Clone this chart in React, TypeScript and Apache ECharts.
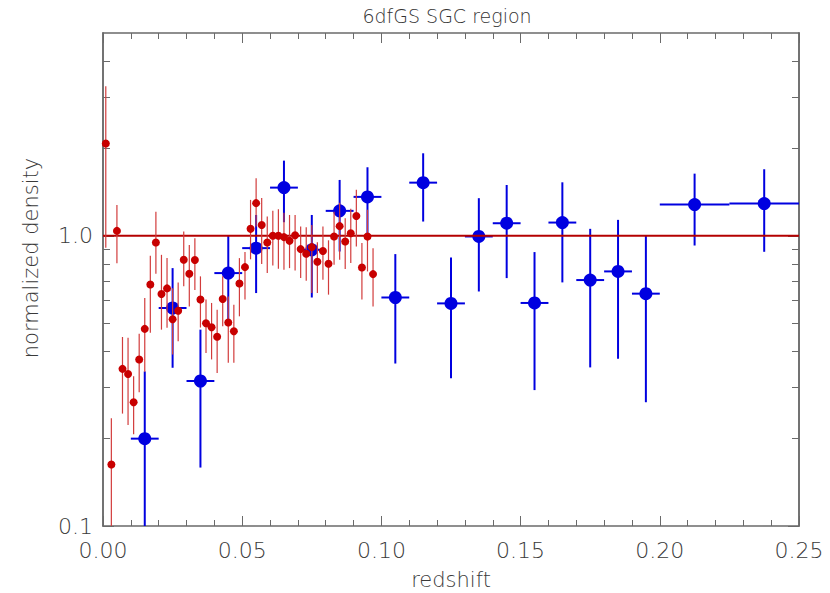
import React, { useEffect, useRef } from "react";
import * as echarts from "echarts";

// ---- data ----
const titleText = "6dfGS SGC region";
const xName = "redshift";
const yName = "normalized density";

const xTickLabels = ["0.00", "0.05", "0.10", "0.15", "0.20", "0.25"];
const yMajorTicks = [0.1, 1];
const yMinorTicks = [0.2, 0.3, 0.4, 0.5, 0.6, 0.7, 0.8, 0.9, 2, 3, 4];
const refLevel = 1.0;

// blue: binned survey points
const blueZ = [0.015, 0.025, 0.035, 0.045, 0.055, 0.065, 0.075, 0.085, 0.095, 0.105, 0.115, 0.125, 0.135, 0.145, 0.155, 0.165, 0.175, 0.185, 0.195, 0.2125, 0.2375];
const blueHalfWidth = [0.005, 0.005, 0.005, 0.005, 0.005, 0.005, 0.005, 0.005, 0.005, 0.005, 0.005, 0.005, 0.005, 0.005, 0.005, 0.005, 0.005, 0.005, 0.005, 0.0125, 0.0125];
const blueVal = [0.20, 0.564, 0.316, 0.744, 0.907, 1.466, 0.895, 1.219, 1.362, 0.613, 1.525, 0.585, 0.995, 1.105, 0.587, 1.111, 0.704, 0.754, 0.632, 1.281, 1.292];
const blueHi = [0.341, 0.774, 0.475, 1.0, 1.18, 1.816, 1.18, 1.558, 1.723, 0.865, 1.925, 0.842, 1.348, 1.497, 0.879, 1.529, 1.057, 1.135, 1.0, 1.638, 1.696];
const blueLo = [0.09, 0.351, 0.159, 0.514, 0.635, 1.114, 0.613, 0.883, 0.98, 0.363, 1.12, 0.323, 0.643, 0.715, 0.294, 0.691, 0.352, 0.377, 0.267, 0.926, 0.881];

// red: fine-binned points
const redZ = [0.001, 0.003, 0.005, 0.007, 0.009, 0.011, 0.013, 0.015, 0.017, 0.019, 0.021, 0.023, 0.025, 0.027, 0.029, 0.031, 0.033, 0.035, 0.037, 0.039, 0.041, 0.043, 0.045, 0.047, 0.049, 0.051, 0.053, 0.055, 0.057, 0.059, 0.061, 0.063, 0.065, 0.067, 0.069, 0.071, 0.073, 0.075, 0.077, 0.079, 0.081, 0.083, 0.085, 0.087, 0.089, 0.091, 0.093, 0.095, 0.097];
const redVal = [2.08, 0.163, 1.04, 0.348, 0.334, 0.267, 0.375, 0.478, 0.68, 0.948, 0.63, 0.659, 0.516, 0.552, 0.827, 0.74, 0.825, 0.603, 0.50, 0.484, 0.449, 0.606, 0.503, 0.469, 0.685, 0.78, 1.057, 1.296, 1.09, 0.948, 1.0, 1.0, 0.99, 0.961, 1.005, 0.9, 0.867, 0.914, 0.814, 0.886, 0.801, 0.995, 1.08, 0.956, 1.02, 1.17, 0.778, 0.995, 0.738];
const redHi = [3.28, 0.235, 1.278, 0.448, 0.445, 0.328, 0.46, 0.61, 0.854, 1.21, 0.86, 0.838, 0.66, 0.69, 1.035, 0.93, 0.98, 0.725, 0.603, 0.587, 0.556, 0.725, 0.618, 0.579, 0.838, 0.88, 1.33, 1.58, 1.35, 1.165, 1.22, 1.235, 1.2, 1.18, 1.18, 1.076, 1.07, 1.09, 0.95, 1.076, 0.965, 1.21, 1.3, 1.15, 1.24, 1.44, 0.944, 1.23, 0.907];
const redLo = [0.91, 0.09, 0.805, 0.244, 0.223, 0.207, 0.289, 0.34, 0.463, 0.74, 0.475, 0.482, 0.39, 0.433, 0.67, 0.571, 0.65, 0.483, 0.395, 0.375, 0.337, 0.488, 0.365, 0.365, 0.528, 0.603, 0.83, 1.076, 0.8, 0.744, 0.79, 0.77, 0.764, 0.774, 0.76, 0.715, 0.70, 0.635, 0.635, 0.706, 0.627, 0.795, 0.827, 0.768, 0.806, 0.918, 0.603, 0.754, 0.571];

const FONT = "'DejaVu Sans', sans-serif";
const TEXT = "#3a3a3a";
const AXIS = "#6a6a6a";
const BLUE = "#0000e0";
const RED = "#c80000";
const RED_ERR = "#d23c3c";

export default function App() {
  const ref = useRef<HTMLDivElement>(null);
  useEffect(() => {
    if (!ref.current) return;
    const chart = echarts.init(ref.current, undefined, { renderer: "svg" });

    const blueBars = blueZ.map((z, i) => [z, blueVal[i], z - blueHalfWidth[i], z + blueHalfWidth[i], blueLo[i], blueHi[i]]);
    const redBars = redZ.map((z, i) => [z, redVal[i], z, z, redLo[i], redHi[i]]);

    const makeBars = (color: string, width: number, horiz: boolean) => (params: any, api: any) => {
      const x = api.value(0), y = api.value(1);
      const lo = api.coord([x, api.value(4)]);
      const hi = api.coord([x, api.value(5)]);
      const children: any[] = [
        { type: "line", shape: { x1: lo[0], y1: lo[1], x2: hi[0], y2: hi[1] }, style: { stroke: color, lineWidth: width } },
      ];
      if (horiz) {
        const l = api.coord([api.value(2), y]);
        const r = api.coord([api.value(3), y]);
        children.push({ type: "line", shape: { x1: l[0], y1: l[1], x2: r[0], y2: r[1] }, style: { stroke: color, lineWidth: width } });
      }
      return { type: "group", children };
    };

    const xBase = {
      type: "value",
      min: 0,
      max: 0.25,
      interval: 0.05,
      axisLine: { show: true, onZero: false, lineStyle: { color: AXIS, width: 1.5 } },
      axisTick: { show: true, inside: true, length: 10, lineStyle: { color: AXIS, width: 1 } },
      minorTick: { show: true, splitNumber: 5, length: 6, lineStyle: { color: AXIS, width: 1 } },
      splitLine: { show: false },
      minorSplitLine: { show: false },
    };
    const yBase = {
      type: "log",
      logBase: 10,
      min: 0.1,
      max: 5,
      axisLine: { show: true, onZero: false, lineStyle: { color: AXIS, width: 1.5 } },
      splitLine: { show: false },
    };

    chart.setOption({
      animation: false,
      backgroundColor: "#ffffff",
      grid: { left: 103, right: 31, top: 33, bottom: 67, containLabel: false },
      xAxis: [
        {
          ...xBase,
          position: "bottom",
          axisLabel: {
            show: true,
            margin: 13,
            fontFamily: FONT,
            fontSize: 22,
            fontWeight: 200,
            color: TEXT,
            formatter: (v: number) => xTickLabels[Math.round(v / 0.05)] ?? "",
          },
        },
        { ...xBase, position: "top", axisLabel: { show: false } },
      ],
      yAxis: [
        {
          ...yBase,
          position: "left",
          axisTick: { show: true, inside: true, length: 11, customValues: yMajorTicks, lineStyle: { color: AXIS } },
          axisLabel: {
            show: true,
            customValues: yMajorTicks,
            margin: 10,
            fontFamily: FONT,
            fontSize: 22,
            fontWeight: 200,
            color: TEXT,
            formatter: (v: number) => (Math.abs(v - 1) < 1e-6 ? "1.0" : "0.1"),
          },
        },
        {
          ...yBase,
          position: "left",
          axisTick: { show: true, inside: true, length: 7, customValues: yMinorTicks, lineStyle: { color: AXIS } },
          axisLabel: { show: false },
        },
        {
          ...yBase,
          position: "right",
          axisTick: { show: true, inside: true, length: 11, customValues: yMajorTicks, lineStyle: { color: AXIS } },
          axisLabel: { show: false },
        },
        {
          ...yBase,
          position: "right",
          axisTick: { show: true, inside: true, length: 7, customValues: yMinorTicks, lineStyle: { color: AXIS } },
          axisLabel: { show: false },
        },
      ],
      graphic: [
        {
          type: "text",
          x: 447,
          y: 16,
          style: { text: titleText, fill: "#333", font: `200 19px ${FONT}`, align: "center", verticalAlign: "middle" },
        },
        {
          type: "text",
          x: 451,
          y: 580,
          style: { text: xName, fill: TEXT, font: `200 21px ${FONT}`, align: "center", verticalAlign: "middle" },
        },
        {
          type: "text",
          x: 31,
          y: 258,
          rotation: Math.PI / 2,
          style: { text: yName, fill: TEXT, font: `200 21px ${FONT}`, align: "center", verticalAlign: "middle" },
        },
      ],
      series: [
        {
          type: "custom",
          name: "blueErr",
          xAxisIndex: 0,
          yAxisIndex: 0,
          clip: true,
          renderItem: makeBars(BLUE, 2, true),
          data: blueBars,
          z: 2,
          silent: true,
        },
        {
          type: "scatter",
          name: "blue",
          xAxisIndex: 0,
          yAxisIndex: 0,
          symbol: "circle",
          symbolSize: 13,
          itemStyle: { color: BLUE, opacity: 1 },
          data: blueZ.map((z, i) => [z, blueVal[i]]),
          z: 3,
        },
        {
          type: "line",
          name: "ref",
          xAxisIndex: 0,
          yAxisIndex: 0,
          symbol: "none",
          lineStyle: { color: "#b40000", width: 2 },
          data: [[0, refLevel], [0.25, refLevel]],
          z: 4,
        },
        {
          type: "custom",
          name: "redErr",
          xAxisIndex: 0,
          yAxisIndex: 0,
          clip: true,
          renderItem: makeBars(RED_ERR, 1.2, false),
          data: redBars,
          z: 5,
          silent: true,
        },
        {
          type: "scatter",
          name: "red",
          xAxisIndex: 0,
          yAxisIndex: 0,
          symbol: "circle",
          symbolSize: 8,
          itemStyle: { color: RED, opacity: 1 },
          data: redZ.map((z, i) => [z, redVal[i]]),
          z: 6,
        },
      ],
    });
    return () => chart.dispose();
  }, []);
  return <div ref={ref} style={{ width: 830, height: 593, position: "absolute", left: 0, top: 0 }} />;
}
